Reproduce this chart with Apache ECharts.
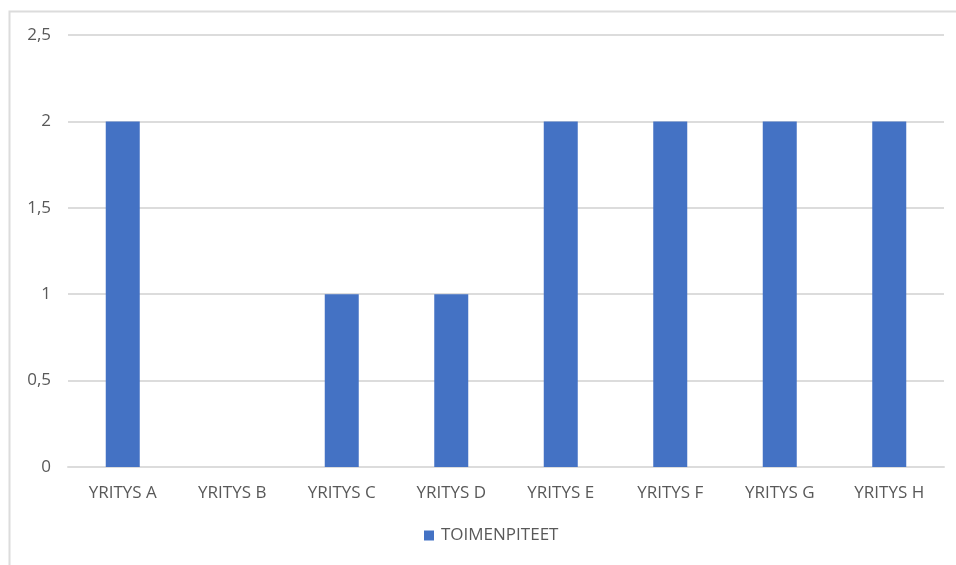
<!DOCTYPE html>
<html>
<head>
<meta charset="utf-8">
<style>
  html, body { margin: 0; padding: 0; background: #ffffff; }
  #chart { width: 956px; height: 565px; }
</style>
<script src="https://cdn.jsdelivr.net/npm/echarts@6/dist/echarts.min.js"></script>
</head>
<body>
<div id="chart"></div>
<script>
// Companies and the number of measures taken by each
const categories = ['YRITYS A', 'YRITYS B', 'YRITYS C', 'YRITYS D', 'YRITYS E', 'YRITYS F', 'YRITYS G', 'YRITYS H'];
const seriesName = 'TOIMENPITEET';
const measures = [2, 0, 1, 1, 2, 2, 2, 2];

const yTicks = { min: 0, max: 2.5, interval: 0.5 };

const textColor = '#595959';
const gridColor = '#dcdcdc';
const barColor = '#4472c4';
const fontFamily = '"Open Sans", "Noto Sans", sans-serif';
const fontSize = 17;

const chart = echarts.init(document.getElementById('chart'), null, { renderer: 'canvas' });

chart.setOption({
  animation: false,
  backgroundColor: '#ffffff',
  textStyle: { fontFamily: fontFamily },
  graphic: [{
    type: 'rect',
    shape: { x: 9.5, y: 11.5, width: 1000, height: 1000 },
    style: { fill: 'none', stroke: gridColor, lineWidth: 2 },
    silent: true,
    z: -1
  }],
  grid: { left: 68, right: 12, top: 35, bottom: 98, containLabel: false },
  legend: {
    bottom: 16,
    left: 419,
    itemWidth: 10,
    itemHeight: 10,
    itemGap: 10,
    icon: 'rect',
    textStyle: { color: textColor, fontSize: fontSize, fontFamily: fontFamily, padding: [0, 0, 0, 2] },
    data: [seriesName]
  },
  xAxis: {
    type: 'category',
    data: categories,
    axisLine: { show: true, lineStyle: { color: gridColor, width: 2 } },
    axisTick: { show: false },
    axisLabel: { color: textColor, fontSize: fontSize, margin: 18, fontFamily: fontFamily }
  },
  yAxis: {
    type: 'value',
    min: yTicks.min,
    max: yTicks.max,
    interval: yTicks.interval,
    axisLine: { show: false },
    axisTick: { show: false },
    splitLine: { lineStyle: { color: gridColor, width: 2 } },
    axisLabel: {
      color: textColor,
      fontSize: fontSize,
      margin: 17,
      fontFamily: fontFamily,
      formatter: v => String(v).replace('.', ',')
    }
  },
  series: [{
    name: seriesName,
    type: 'bar',
    data: measures,
    barWidth: 34,
    itemStyle: { color: barColor }
  }]
});
</script>
</body>
</html>
